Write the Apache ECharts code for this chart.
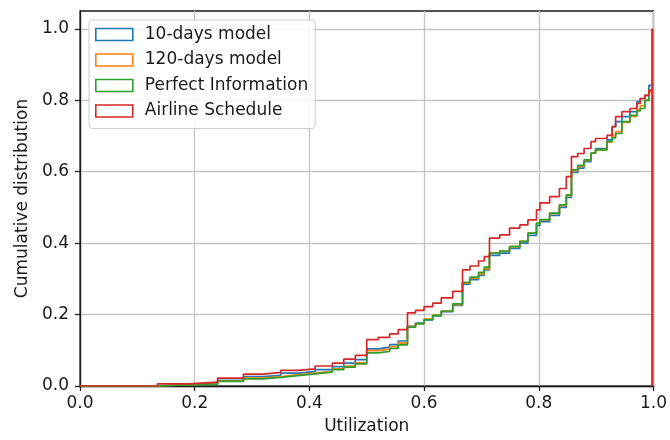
<!DOCTYPE html>
<html>
<head>
<meta charset="utf-8">
<script src="https://cdn.jsdelivr.net/npm/echarts@6/dist/echarts.min.js"></script>
<style>
  html, body { margin: 0; padding: 0; background: #fff; }
  #chart { width: 670px; height: 440px; }
</style>
</head>
<body>
<div id="chart"></div>
<script>
// Bin edges (utilization) where the cumulative step curves change
const utilization = [0, 0.135, 0.19, 0.24, 0.285, 0.32, 0.35, 0.38, 0.41, 0.44, 0.46, 0.48,
  0.5, 0.52, 0.54, 0.555, 0.571, 0.585, 0.6, 0.615, 0.63, 0.65,
  0.667, 0.68, 0.695, 0.705, 0.714, 0.732, 0.749, 0.767, 0.781, 0.796, 0.802, 0.819, 0.836, 0.848,
  0.857, 0.868, 0.879, 0.891, 0.899, 0.919, 0.928, 0.934, 0.945, 0.959, 0.971, 0.977, 0.985, 0.992, 0.998];

const tenDays = [0, 0.004, 0.008, 0.016, 0.026, 0.03, 0.036, 0.04, 0.046, 0.054, 0.064, 0.074,
  0.104, 0.109, 0.116, 0.126, 0.167, 0.176, 0.185, 0.196, 0.208, 0.226,
  0.285, 0.298, 0.31, 0.325, 0.366, 0.372, 0.385, 0.4, 0.422, 0.45, 0.46, 0.478, 0.5, 0.528,
  0.598, 0.61, 0.628, 0.652, 0.665, 0.689, 0.726, 0.74, 0.754, 0.768, 0.796, 0.805, 0.814, 0.842, 1.0];

const days120 = [0, 0.004, 0.006, 0.014, 0.022, 0.026, 0.031, 0.036, 0.041, 0.048, 0.056, 0.065,
  0.099, 0.103, 0.11, 0.12, 0.166, 0.175, 0.187, 0.198, 0.21, 0.228,
  0.288, 0.302, 0.314, 0.328, 0.372, 0.378, 0.39, 0.405, 0.428, 0.455, 0.465, 0.483, 0.506, 0.533,
  0.603, 0.615, 0.632, 0.652, 0.662, 0.683, 0.7, 0.712, 0.738, 0.755, 0.774, 0.785, 0.8, 0.822, 1.0];

const perfectInfo = [0, 0.003, 0.005, 0.013, 0.02, 0.024, 0.029, 0.034, 0.039, 0.046, 0.053, 0.062,
  0.093, 0.097, 0.105, 0.115, 0.165, 0.174, 0.186, 0.198, 0.21, 0.23,
  0.29, 0.305, 0.318, 0.333, 0.372, 0.378, 0.39, 0.405, 0.428, 0.456, 0.466, 0.484, 0.507, 0.535,
  0.605, 0.618, 0.633, 0.652, 0.661, 0.685, 0.695, 0.707, 0.74, 0.758, 0.77, 0.777, 0.8, 0.828, 1.0];

const airline = [0, 0.006, 0.011, 0.022, 0.033, 0.038, 0.044, 0.048, 0.056, 0.064, 0.075, 0.086,
  0.13, 0.136, 0.146, 0.158, 0.205, 0.212, 0.222, 0.232, 0.247, 0.265,
  0.325, 0.336, 0.35, 0.362, 0.414, 0.423, 0.442, 0.451, 0.465, 0.493, 0.513, 0.53, 0.553, 0.586,
  0.642, 0.651, 0.665, 0.684, 0.693, 0.702, 0.726, 0.754, 0.768, 0.777, 0.791, 0.805, 0.814, 0.828, 1.0];

const seriesNames = ['10-days model', '120-days model', 'Perfect Information', 'Airline Schedule'];
const seriesValues = [tenDays, days120, perfectInfo, airline];
const colors = ['#1f77b4', '#ff7f0e', '#2ca02c', '#d62728'];

const xTicks = [0, 0.2, 0.4, 0.6, 0.8, 1.0];
const yTicks = [0, 0.2, 0.4, 0.6, 0.8, 1.0];

const FONT = 'DejaVu Sans';
const FS = 17;

function stepData(values) {
  const pts = utilization.map((u, i) => [u, values[i]]);
  // histogram outline closes back down to the baseline at the last edge
  pts.push([utilization[utilization.length - 1], 0]);
  return pts;
}

const chart = echarts.init(document.getElementById('chart'), null, { renderer: 'canvas' });

const option = {
  animation: false,
  backgroundColor: '#ffffff',
  grid: {
    left: 80, right: 12, top: 11, bottom: 54,
    show: true, borderColor: '#1a1a1a', borderWidth: 1.3, backgroundColor: 'transparent'
  },
  legend: {
    orient: 'vertical',
    left: 89, top: 20,
    padding: [6, 7, 9, 6],
    itemWidth: 37, itemHeight: 12,
    itemGap: 8.5,
    backgroundColor: 'rgba(255,255,255,0.85)',
    borderColor: '#cccccc', borderWidth: 1, borderRadius: 3,
    textStyle: { fontFamily: FONT, fontSize: FS, color: '#1a1a1a', lineHeight: 17, padding: [0, 0, 0, 7] },
    data: seriesNames.map((n, i) => ({
      name: n, icon: 'rect',
      itemStyle: { color: 'rgba(255,255,255,0)', borderColor: colors[i], borderWidth: 1.6 }
    }))
  },
  xAxis: {
    type: 'value', min: 0, max: 1, interval: 0.2,
    name: 'Utilization', nameLocation: 'middle', nameGap: 32,
    nameTextStyle: { fontFamily: FONT, fontSize: FS, color: '#1a1a1a' },
    axisLine: { show: true, lineStyle: { color: '#1a1a1a', width: 1.3 } },
    axisTick: { show: true, length: 5, lineStyle: { color: '#1a1a1a', width: 1.3 }, customValues: xTicks },
    axisLabel: { fontFamily: FONT, fontSize: FS, color: '#1a1a1a', margin: 9,
      customValues: xTicks, formatter: v => v.toFixed(1) },
    splitLine: { show: true, lineStyle: { color: '#c6c6c6', width: 1.4 } }
  },
  yAxis: {
    type: 'value', min: 0, max: 1.05, interval: 0.2,
    name: 'Cumulative distribution', nameLocation: 'middle', nameGap: 49,
    nameTextStyle: { fontFamily: FONT, fontSize: FS, color: '#1a1a1a' },
    axisLine: { show: true, lineStyle: { color: '#1a1a1a', width: 1.3 } },
    axisTick: { show: true, length: 5, lineStyle: { color: '#1a1a1a', width: 1.3 }, customValues: yTicks },
    axisLabel: { fontFamily: FONT, fontSize: FS, color: '#1a1a1a', margin: 11,
      customValues: yTicks, formatter: v => v.toFixed(1) },
    splitLine: { show: true, lineStyle: { color: '#c6c6c6', width: 1.4 } }
  },
  series: seriesNames.map((n, i) => ({
    name: n,
    type: 'line',
    step: 'end',
    symbol: 'none',
    clip: true,
    color: colors[i],
    lineStyle: { color: colors[i], width: 1.7 },
    data: stepData(seriesValues[i]),
    z: 2 + i
  }))
};

chart.setOption(option);
</script>
</body>
</html>
